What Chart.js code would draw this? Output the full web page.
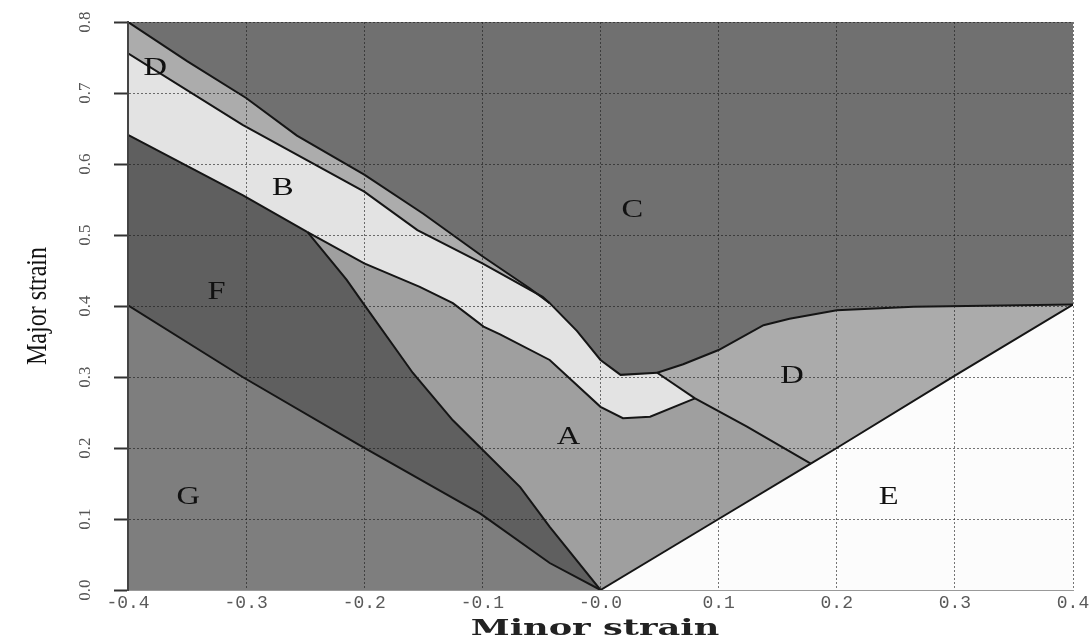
<!DOCTYPE html>
<html>
<head>
<meta charset="utf-8">
<script src="https://cdn.jsdelivr.net/npm/chart.js@4.4.1/dist/chart.umd.min.js"></script>
<style>
  html, body { margin: 0; padding: 0; background: #ffffff; }
  #wrap { width: 1092px; height: 642px; }
</style>
</head>
<body>
<div id="wrap"><canvas id="fld"></canvas></div>
<script>
// boundary curves, [minor strain, major strain]
const cEdgeLeft = [[-0.4, 0.8], [-0.35, 0.745], [-0.3, 0.693], [-0.257, 0.64], [-0.2, 0.585], [-0.15, 0.53], [-0.1, 0.47], [-0.06, 0.425], [-0.043, 0.404]];
const cEdgeMid = [[-0.043, 0.404], [-0.02, 0.365], [0.0, 0.324], [0.017, 0.303], [0.048, 0.306]];
const cEdgeRight = [[0.048, 0.306], [0.07, 0.318], [0.1, 0.338], [0.138, 0.373], [0.16, 0.382], [0.2, 0.394], [0.265, 0.399], [0.4, 0.402]];
const dBandLower = [[-0.4, 0.756], [-0.303, 0.655], [-0.2, 0.561], [-0.155, 0.507], [-0.1, 0.46], [-0.049, 0.413], [-0.043, 0.404]];
const bLowerLeft = [[-0.4, 0.641], [-0.303, 0.556], [-0.248, 0.504]];
const bLowerRight = [[-0.248, 0.504], [-0.2, 0.46], [-0.153, 0.427], [-0.125, 0.404], [-0.099, 0.371], [-0.085, 0.36], [-0.043, 0.324], [0.0, 0.258], [0.019, 0.242], [0.042, 0.244], [0.08, 0.27]];
const dLeft = [[0.048, 0.306], [0.08, 0.27]];
const dLeftLower = [[0.08, 0.27], [0.124, 0.23], [0.178, 0.178]];
const eLineLower = [[0.0, 0.0], [0.1, 0.1], [0.178, 0.178]];
const eLineUpper = [[0.178, 0.178], [0.2, 0.2], [0.3, 0.302], [0.4, 0.402]];
const fRight = [[-0.248, 0.504], [-0.215, 0.437], [-0.201, 0.404], [-0.159, 0.306], [-0.125, 0.239], [-0.102, 0.201], [-0.068, 0.145], [-0.043, 0.089], [0.0, 0.0]];
const gTop = [[-0.4, 0.401], [-0.303, 0.3], [-0.204, 0.204], [-0.102, 0.108], [-0.043, 0.038], [0.0, 0.0]];

// region letters and where they sit
const regionNames = ['D', 'B', 'C', 'F', 'A', 'D', 'G', 'E'];
const regionLabelX = [-0.377, -0.269, 0.027, -0.325, -0.027, 0.162, -0.349, 0.244];
const regionLabelY = [0.735, 0.566, 0.535, 0.42, 0.215, 0.301, 0.131, 0.131];

const xTicks = [-0.4, -0.3, -0.2, -0.1, 0.0, 0.1, 0.2, 0.3, 0.4];
const xTickText = ['-0.4', '-0.3', '-0.2', '-0.1', '-0.0', '0.1', '0.2', '0.3', '0.4'];
const yTicks = [0.0, 0.1, 0.2, 0.3, 0.4, 0.5, 0.6, 0.7, 0.8];
const yTickText = ['0.0', '0.1', '0.2', '0.3', '0.4', '0.5', '0.6', '0.7', '0.8'];
const xTitle = 'Minor strain';
const yTitle = 'Major strain';

const rev = a => a.slice().reverse();
const pts = a => a.map(p => ({x: p[0], y: p[1]}));

const regions = [
    {name: 'C', color: '#707070', poly: [...cEdgeLeft, ...cEdgeMid, ...cEdgeRight, [0.4, 0.8]]},
    {name: 'D upper', color: '#acacac', poly: [...cEdgeLeft, ...rev(dBandLower)]},
    {name: 'B', color: '#e3e3e3', poly: [...dBandLower, ...cEdgeMid, ...dLeft, ...rev(bLowerRight), ...rev(bLowerLeft)]},
    {name: 'F', color: '#5f5f5f', poly: [...bLowerLeft, ...fRight, ...rev(gTop)]},
    {name: 'G', color: '#7e7e7e', poly: [...gTop, [-0.4, 0.0]]},
    {name: 'A', color: '#9f9f9f', poly: [...bLowerRight, ...dLeftLower, ...rev(eLineLower), ...rev(fRight)]},
    {name: 'D right', color: '#ababab', poly: [...cEdgeRight, ...rev(eLineUpper), ...rev(dLeftLower), ...rev(dLeft)]},
    {name: 'E', color: '#fcfcfc', poly: [...eLineLower, ...eLineUpper, [0.4, 0.0]]}
];
const boundaries = [cEdgeLeft, cEdgeMid, cEdgeRight, dBandLower, bLowerLeft, bLowerRight, dLeft, dLeftLower, eLineLower, eLineUpper, fRight, gTop];

const datasets = [];
// outlines first so they are drawn on top
boundaries.forEach(b => {
    datasets.push({
        data: pts(b),
        borderColor: '#151515',
        borderWidth: 2,
        fill: false,
        pointRadius: 0,
        tension: 0
    });
});
regions.forEach(r => {
    datasets.push({
        label: r.name,
        data: pts(r.poly),
        borderWidth: 0,
        borderColor: r.color,
        backgroundColor: r.color,
        fill: 'shape',
        pointRadius: 0,
        tension: 0
    });
});

const regionLetters = {
    id: 'regionLetters',
    afterDatasetsDraw(chart) {
        const {ctx, scales} = chart;
        ctx.save();
        ctx.font = '26px "Liberation Serif"';
        ctx.fillStyle = '#111';
        ctx.textAlign = 'center';
        ctx.textBaseline = 'middle';
        regionNames.forEach((n, i) => {
            ctx.save();
            ctx.translate(scales.x.getPixelForValue(regionLabelX[i]), scales.y.getPixelForValue(regionLabelY[i]));
            ctx.scale(1.25, 1);
            ctx.fillText(n, 0, 0);
            ctx.restore();
        });
        ctx.restore();
    }
};

// rotated y tick labels and the stretched axis titles
const axisText = {
    id: 'axisText',
    afterDraw(chart) {
        const {ctx, scales, chartArea} = chart;
        ctx.save();
        ctx.font = '17px "Liberation Serif"';
        ctx.fillStyle = '#555';
        ctx.textAlign = 'center';
        ctx.textBaseline = 'middle';
        yTicks.forEach((v, i) => {
            ctx.save();
            ctx.translate(86, scales.y.getPixelForValue(v));
            ctx.rotate(-Math.PI / 2);
            ctx.fillText(yTickText[i], 0, 0);
            ctx.restore();
        });

        ctx.save();
        ctx.translate(38, (chartArea.top + chartArea.bottom) / 2);
        ctx.rotate(-Math.PI / 2);
        ctx.scale(0.8, 1);
        ctx.font = '30px "Liberation Serif"';
        ctx.fillStyle = '#111';
        ctx.fillText(yTitle, 0, 0);
        ctx.restore();

        ctx.save();
        ctx.translate(595, 629);
        ctx.scale(1.6, 1);
        ctx.font = 'bold 22px "DejaVu Serif"';
        ctx.fillStyle = '#222';
        ctx.fillText(xTitle, 0, 0);
        ctx.restore();
        ctx.restore();
    }
};

new Chart(document.getElementById('fld').getContext('2d'), {
    type: 'line',
    data: {datasets: datasets},
    options: {
        responsive: true,
        maintainAspectRatio: false,
        animation: false,
        layout: {padding: {top: 22, right: 19, left: 0, bottom: 0}},
        plugins: {legend: {display: false}, tooltip: {enabled: false}},
        scales: {
            x: {
                type: 'linear',
                min: -0.4,
                max: 0.4,
                afterBuildTicks(scale) { scale.ticks = xTicks.map(v => ({value: v})); },
                afterFit(scale) { scale.height = 52; },
                ticks: {
                    font: {family: '"Liberation Mono"', size: 18},
                    color: '#5a5a5a',
                    padding: 2,
                    maxRotation: 0,
                    callback: (v, i) => xTickText[i]
                },
                grid: {color: 'rgba(25,25,25,0.6)', lineWidth: 1, drawTicks: false, z: 1},
                border: {display: true, color: '#999', width: 1, dash: [2, 2], z: 2}
            },
            y: {
                type: 'linear',
                min: 0,
                max: 0.8,
                afterBuildTicks(scale) { scale.ticks = yTicks.map(v => ({value: v})); },
                afterFit(scale) { scale.width = 128; },
                ticks: {display: false},
                grid: {color: 'rgba(25,25,25,0.6)', lineWidth: 1, tickLength: 14, tickColor: '#333', tickWidth: 2, z: 1},
                border: {display: true, color: '#444', width: 2, dash: [2, 2], z: 2}
            }
        }
    },
    plugins: [regionLetters, axisText]
});
</script>
</body>
</html>
